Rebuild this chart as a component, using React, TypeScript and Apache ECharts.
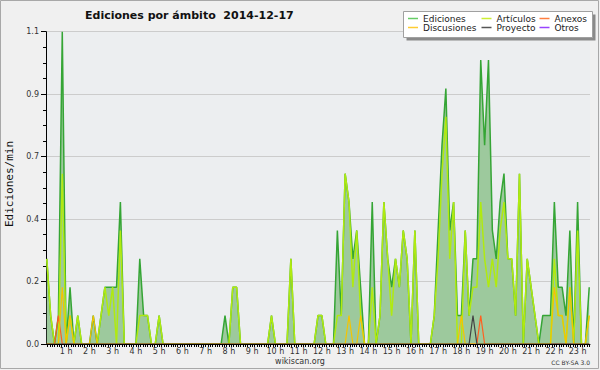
import React, { useEffect, useRef } from "react";
import * as echarts from "echarts";

const TITLE = "Ediciones por ámbito  2014-12-17";
const Y_NAME = "Ediciones/min";
const FOOTER = "wikiscan.org";
const LICENSE = "CC BY-SA 3.0";

// 10-minute buckets, starting at 00:10 (bucket 1) up to 23:30 (bucket 141)
const FIRST_BUCKET = 1;
const BUCKETS_PER_HOUR = 6;

const HOUR_LABELS = [1, 2, 3, 4, 5, 6, 7, 8, 9, 10, 11, 12, 13, 14, 15, 16, 17, 18, 19, 20, 21, 22, 23];
const Y_TICKS = [0, 0.22, 0.44, 0.66, 0.88, 1.1];

const ediciones = [
  0.3, 0.1, 0, 0.1, 1.1, 0, 0.2, 0, 0.1, 0, 0, 0,
  0.1, 0, 0.1, 0.2, 0.2, 0.2, 0.2, 0.5, 0, 0, 0, 0,
  0.3, 0.1, 0.1, 0, 0, 0.1, 0, 0, 0, 0, 0, 0,
  0, 0, 0, 0, 0, 0, 0, 0, 0, 0, 0.1, 0,
  0.2, 0.2, 0, 0, 0, 0, 0, 0, 0, 0, 0.1, 0,
  0, 0, 0, 0.3, 0, 0, 0, 0, 0, 0, 0.1, 0.1,
  0, 0, 0, 0.4, 0.1, 0.6, 0.5, 0.3, 0.4, 0.2, 0, 0,
  0.5, 0, 0.1, 0.5, 0.3, 0.2, 0.3, 0.2, 0.4, 0.3, 0, 0.4,
  0, 0, 0, 0, 0.1, 0.4, 0.7, 0.9, 0.4, 0.5, 0.1, 0.1,
  0.4, 0.1, 0.3, 0.3, 1.0, 0.7, 1.0, 0.4, 0.3, 0.5, 0.6, 0.3,
  0.3, 0.1, 0.6, 0, 0.3, 0.2, 0.1, 0, 0.1, 0.1, 0.1, 0.5,
  0.2, 0.2, 0.1, 0.4, 0, 0.5, 0, 0, 0.2,
];

const articulos = [
  0.3, 0.1, 0, 0, 0.6, 0, 0.1, 0, 0.1, 0, 0, 0,
  0, 0, 0.1, 0.2, 0.1, 0.2, 0, 0.4, 0, 0, 0, 0,
  0.1, 0.1, 0.1, 0, 0, 0.1, 0, 0, 0, 0, 0, 0,
  0, 0, 0, 0, 0, 0, 0, 0, 0, 0, 0, 0,
  0.2, 0.2, 0, 0, 0, 0, 0, 0, 0, 0, 0.1, 0,
  0, 0, 0, 0.3, 0, 0, 0, 0, 0, 0, 0.1, 0.1,
  0, 0, 0, 0.1, 0.1, 0.6, 0.5, 0.2, 0.4, 0.1, 0, 0,
  0.2, 0, 0.1, 0.5, 0.3, 0.1, 0.3, 0.2, 0.4, 0.3, 0, 0.4,
  0, 0, 0, 0, 0.1, 0.3, 0.6, 0.8, 0.3, 0.5, 0, 0,
  0.4, 0.1, 0.2, 0.2, 0.5, 0.3, 0.2, 0.3, 0.2, 0.4, 0.5, 0.3,
  0.3, 0.1, 0.6, 0, 0.3, 0.2, 0.1, 0, 0, 0, 0, 0.3,
  0.1, 0.1, 0, 0.2, 0, 0.4, 0, 0, 0.1,
];

const discusiones = [
  0, 0, 0, 0, 0.2, 0, 0.1, 0, 0, 0, 0, 0,
  0.1, 0, 0, 0, 0, 0, 0, 0, 0, 0, 0, 0,
  0, 0, 0, 0, 0, 0, 0, 0, 0, 0, 0, 0,
  0, 0, 0, 0, 0, 0, 0, 0, 0, 0, 0, 0,
  0, 0, 0, 0, 0, 0, 0, 0, 0, 0, 0, 0,
  0, 0, 0, 0, 0, 0, 0, 0, 0, 0, 0, 0,
  0, 0, 0, 0, 0, 0, 0.1, 0, 0, 0.1, 0, 0,
  0, 0, 0, 0, 0, 0, 0, 0, 0, 0, 0, 0,
  0, 0, 0, 0, 0, 0, 0, 0, 0, 0, 0, 0.1,
  0, 0, 0, 0, 0, 0, 0, 0, 0, 0, 0, 0,
  0, 0, 0, 0, 0, 0, 0, 0, 0, 0, 0, 0.2,
  0.1, 0.1, 0, 0.2, 0, 0, 0, 0, 0.1,
];

const anexos = [
  0, 0, 0, 0.1, 0, 0, 0, 0, 0, 0, 0, 0,
  0, 0, 0, 0, 0, 0, 0, 0, 0, 0, 0, 0,
  0, 0, 0, 0, 0, 0, 0, 0, 0, 0, 0, 0,
  0, 0, 0, 0, 0, 0, 0, 0, 0, 0, 0, 0,
  0, 0, 0, 0, 0, 0, 0, 0, 0, 0, 0, 0,
  0, 0, 0, 0, 0, 0, 0, 0, 0, 0, 0, 0,
  0, 0, 0, 0, 0, 0, 0, 0, 0, 0, 0, 0,
  0, 0, 0, 0, 0, 0, 0, 0, 0, 0, 0, 0,
  0, 0, 0, 0, 0, 0, 0, 0, 0, 0, 0, 0,
  0, 0, 0, 0, 0.1, 0, 0, 0, 0, 0, 0, 0,
  0, 0, 0, 0, 0, 0, 0, 0, 0, 0, 0, 0,
  0, 0, 0, 0, 0, 0, 0, 0, 0,
];

const proyecto = [
  0, 0, 0, 0, 0, 0, 0, 0, 0, 0, 0, 0,
  0, 0, 0, 0, 0, 0, 0, 0, 0, 0, 0, 0,
  0, 0, 0, 0, 0, 0, 0, 0, 0, 0, 0, 0,
  0, 0, 0, 0, 0, 0, 0, 0, 0, 0, 0, 0,
  0, 0, 0, 0, 0, 0, 0, 0, 0, 0, 0, 0,
  0, 0, 0, 0, 0, 0, 0, 0, 0, 0, 0, 0,
  0, 0, 0, 0, 0, 0, 0, 0, 0, 0, 0, 0,
  0, 0, 0, 0, 0, 0, 0, 0, 0, 0, 0, 0,
  0, 0, 0, 0, 0, 0, 0, 0, 0, 0, 0, 0,
  0, 0, 0.1, 0, 0, 0, 0, 0, 0, 0, 0, 0,
  0, 0, 0, 0, 0, 0, 0, 0, 0, 0, 0, 0,
  0, 0, 0, 0, 0, 0, 0, 0, 0,
];

const otros: number[] = [];

const LEGEND_COLORS: Record<string, string> = {
  Ediciones: "#66cc66",
  Artículos: "#ccee33",
  Anexos: "#ff7f40",
  Discusiones: "#ffcc33",
  Proyecto: "#555555",
  Otros: "#9944ff",
};

const toPairs = (arr: number[]) =>
  arr.map((v, i) => [(i + FIRST_BUCKET) / BUCKETS_PER_HOUR, v]);

const FONT = "DejaVu Sans";

export default function App() {
  const ref = useRef<HTMLDivElement>(null);

  useEffect(() => {
    if (!ref.current) return;
    const chart = echarts.init(ref.current, undefined, { renderer: "svg" });

    const minorTickValues: number[] = [];
    for (let i = 2; i <= 235; i++) minorTickValues.push(i / 10);

    const legendItem = (name: string) => ({
      name,
      itemStyle: { color: LEGEND_COLORS[name] },
    });
    const legendBase = {
      orient: "vertical" as const,
      top: 14,
      itemWidth: 10,
      itemHeight: 1.5,
      itemGap: 0,
      icon: "rect",
      z: 10,
      padding: 0,
      textStyle: { fontFamily: FONT, fontSize: 9, color: "#222" },
    };

    const lineSeries = (name: string, data: number[], color: string, width: number) => ({
      name,
      type: "line" as const,
      data: toPairs(data),
      symbol: "none",
      smooth: false,
      itemStyle: { color: LEGEND_COLORS[name] },
      lineStyle: { color, width },
    });

    chart.setOption({
      animation: false,
      backgroundColor: "#f0f0f0",
      grid: {
        left: 46,
        right: 10,
        top: 31.7,
        bottom: 26,
        show: true,
        backgroundColor: "#eceef0",
        borderWidth: 0,
      },
      xAxis: {
        type: "value",
        min: 0.8 / BUCKETS_PER_HOUR,
        max: 141.2 / BUCKETS_PER_HOUR,
        z: 10,
        axisLine: { show: true, lineStyle: { color: "#000", width: 1 } },
        axisTick: {
          show: true,
          customValues: minorTickValues,
          length: 3,
          lineStyle: { color: "#000", width: 1 },
        },
        axisLabel: {
          customValues: HOUR_LABELS,
          formatter: (v: number) => `${Math.round(v)} h`,
          fontFamily: FONT,
          fontSize: 8,
          color: "#333",
          margin: 3,
        },
        splitLine: { show: false },
      },
      yAxis: {
        type: "value",
        min: 0,
        max: 1.1,
        interval: 0.22,
        axisLine: { show: true, lineStyle: { color: "#000", width: 1 } },
        axisTick: { show: true, length: 5, lineStyle: { color: "#000" } },
        minorTick: { show: true, splitNumber: 4, length: 3, lineStyle: { color: "#000" } },
        axisLabel: {
          formatter: (v: number) => v.toFixed(1),
          fontFamily: FONT,
          fontSize: 8,
          color: "#333",
          margin: 7,
          customValues: Y_TICKS,
        },
        splitLine: { show: true, lineStyle: { color: "#cccccc", width: 1 } },
      },
      legend: [
        { ...legendBase, left: 408, data: [legendItem("Ediciones"), legendItem("Discusiones")] },
        { ...legendBase, left: 481.5, data: [legendItem("Artículos"), legendItem("Proyecto")] },
        { ...legendBase, left: 539.5, data: [legendItem("Anexos"), legendItem("Otros")] },
      ],
      graphic: [
        {
          type: "rect",
          z: 5,
          shape: { x: 406.5, y: 14.5, width: 189, height: 26 },
          style: { fill: "#8a8a8a" },
        },
        {
          type: "rect",
          z: 6,
          shape: { x: 403.5, y: 11.5, width: 189, height: 26 },
          style: { fill: "#ffffff", stroke: "#a0a0a0", lineWidth: 1 },
        },
        {
          type: "text",
          x: 85,
          y: 15,
          style: {
            text: TITLE,
            fontFamily: FONT,
            fontWeight: "bold",
            fontSize: 11,
            fill: "#111",
            verticalAlign: "middle",
            textAlign: "left",
          },
        },
        {
          type: "text",
          x: 9.5,
          y: 184,
          rotation: Math.PI / 2,
          style: {
            text: Y_NAME,
            fontFamily: "DejaVu Sans Mono",
            fontSize: 11,
            fill: "#111",
            align: "center",
            verticalAlign: "middle",
          },
        },
        {
          type: "text",
          x: 300,
          y: 361,
          style: {
            text: FOOTER,
            fontFamily: FONT,
            fontSize: 8,
            fill: "#333",
            align: "center",
            verticalAlign: "middle",
          },
        },
        {
          type: "text",
          x: 590,
          y: 362.5,
          style: {
            text: LICENSE,
            fontFamily: FONT,
            fontSize: 6,
            fill: "#333",
            align: "right",
            verticalAlign: "middle",
          },
        },
        {
          type: "rect",
          z: 20,
          silent: true,
          shape: { x: 0.5, y: 0.5, width: 598, height: 368 },
          style: { fill: "none", stroke: "#a8a8a8", lineWidth: 1 },
        },
      ],
      series: [
        {
          ...lineSeries("Ediciones", ediciones, "#35a535", 1.5),
          areaStyle: { color: "#9dc99d", opacity: 1 },
        },
        lineSeries("Artículos", articulos, "#b0ea10", 1.5),
        lineSeries("Anexos", anexos, "#ff6020", 1.2),
        lineSeries("Discusiones", discusiones, "#f5c400", 1.2),
        lineSeries("Proyecto", proyecto, "#444444", 1.2),
        lineSeries("Otros", otros, "#9944ff", 1.2),
      ],
    });

    return () => chart.dispose();
  }, []);

  return (
    <div
      ref={ref}
      style={{ position: "absolute", left: 0, top: 0, width: 600, height: 370 }}
    />
  );
}
